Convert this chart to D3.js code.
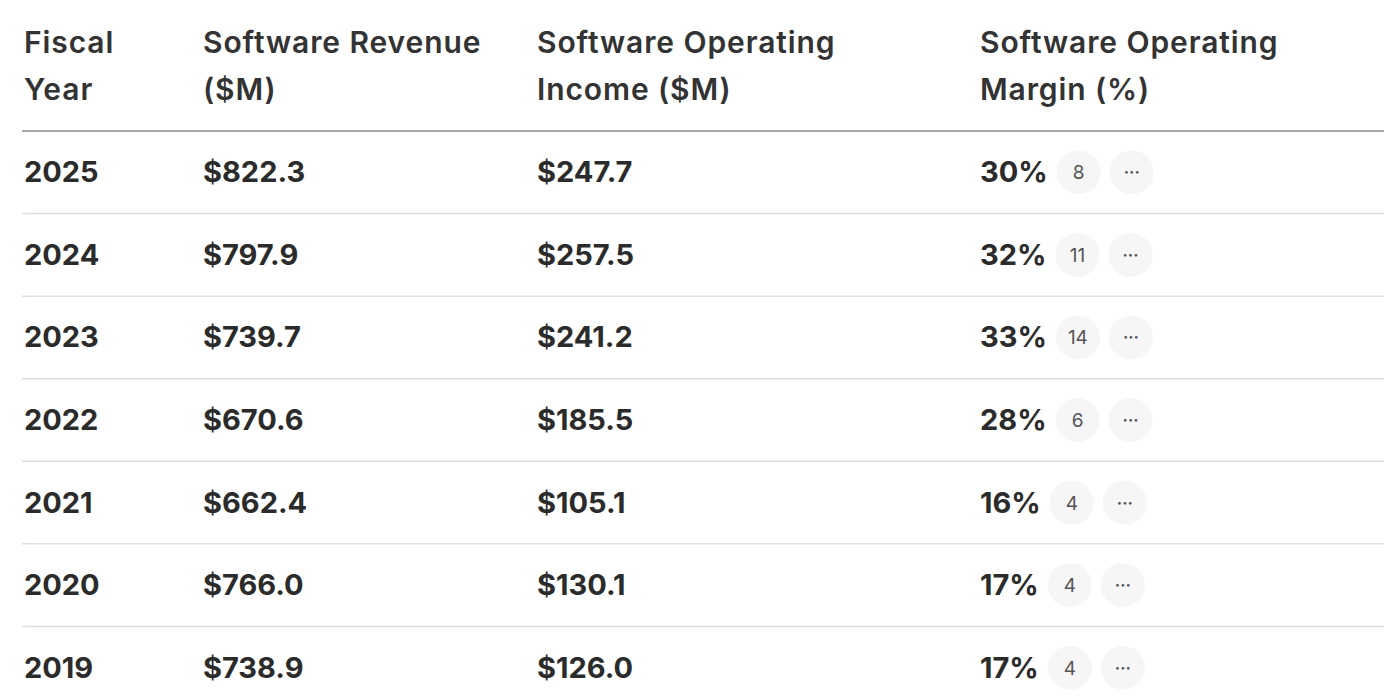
<!DOCTYPE html>
<html><head><meta charset="utf-8">
<script src="https://cdn.jsdelivr.net/npm/d3@7"></script>
<style>body{margin:0;background:#fff}</style></head>
<body><div id="chart"></div>
<script>
const headers = [["Fiscal", "Year"], ["Software Revenue", "($M)"], ["Software Operating", "Income ($M)"], ["Software Operating", "Margin (%)"]]
const years = ["2025", "2024", "2023", "2022", "2021", "2020", "2019"]
const revenue = ["$822.3", "$797.9", "$739.7", "$670.6", "$662.4", "$766.0", "$738.9"]
const income = ["$247.7", "$257.5", "$241.2", "$185.5", "$105.1", "$130.1", "$126.0"]
const margin = ["30%", "32%", "33%", "28%", "16%", "17%", "17%"]
const citations = ["8", "11", "14", "6", "4", "4", "4"]

const W = 1384, H = 700
const colX = [24, 203, 537, 980]
const font = "Inter, 'Noto Sans', sans-serif"

const svg = d3.select('#chart').append('svg')
    .attr('width', W).attr('height', H)
    .style('font-family', font)

// header
headers.forEach((lines, i) => {
    lines.forEach((t, j) => {
        svg.append('text')
            .attr('x', colX[i]).attr('y', 53 + j * 47)
            .attr('font-size', 30).attr('font-weight', 600)
            .attr('letter-spacing', 0.9)
            .attr('fill', '#333')
            .text(t)
    })
})
svg.append('line').attr('x1', 22).attr('x2', W).attr('y1', 131).attr('y2', 131)
    .attr('stroke', '#8a8a8a').attr('stroke-width', 1.5)

const y = d3.scaleBand().domain(years).range([131, 709]).padding(0)

years.forEach((yr, i) => {
    const cy = y(yr) + y.bandwidth() / 2
    if (i > 0) {
        svg.append('line').attr('x1', 22).attr('x2', W).attr('y1', y(yr)).attr('y2', y(yr))
            .attr('stroke', '#dde0ea').attr('stroke-width', 1.5)
    }
    const vals = [yr, revenue[i], income[i], margin[i]]
    let last
    vals.forEach((v, c) => {
        last = svg.append('text')
            .attr('x', colX[c]).attr('y', cy + 10)
            .attr('font-size', 29).attr('font-weight', 700)
            .attr('fill', '#2b2b2b')
            .text(v)
    })
    const end = colX[3] + last.node().getComputedTextLength()
    const bx = end + 31
    svg.append('circle').attr('cx', bx).attr('cy', cy).attr('r', 22).attr('fill', '#f6f6f6')
    svg.append('text').attr('x', bx).attr('y', cy + 7).attr('text-anchor', 'middle')
        .attr('font-size', 19).attr('fill', '#555').text(citations[i])
    const ex = bx + 53
    svg.append('circle').attr('cx', ex).attr('cy', cy).attr('r', 22).attr('fill', '#f6f6f6')
    svg.append('text').attr('x', ex).attr('y', cy + 6).attr('text-anchor', 'middle')
        .attr('font-size', 16).attr('font-weight', 700).attr('fill', '#555').text('···')
})
</script></body></html>
